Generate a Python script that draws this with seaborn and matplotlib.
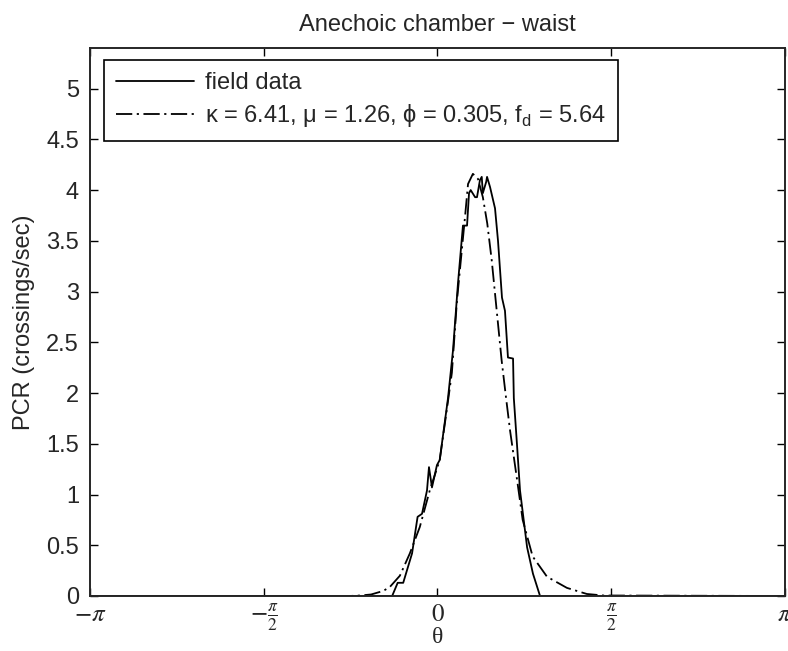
import numpy as np
import pandas as pd
import matplotlib
matplotlib.use("Agg")
import matplotlib.pyplot as plt
import seaborn as sns

# field data
theta_field = [-np.pi, -0.41, -0.36, -0.31, -0.23, -0.18, -0.14, -0.095, -0.077, -0.05,
               -0.005, 0.02, 0.095, 0.14, 0.185, 0.23, 0.267, 0.285, 0.30, 0.34,
               0.357, 0.384, 0.40, 0.41, 0.44, 0.448, 0.475, 0.52, 0.547, 0.583,
               0.61, 0.637, 0.683, 0.69, 0.72, 0.746, 0.81, 0.863, 0.927, np.pi]
pcr_field = [0, 0, 0.13, 0.13, 0.42, 0.78, 0.81, 1.04, 1.27, 1.07,
             1.29, 1.34, 1.95, 2.42, 3.08, 3.65, 3.65, 3.97, 4.0, 3.93,
             3.93, 4.1, 4.13, 3.97, 4.08, 4.13, 4.03, 3.82, 3.5, 2.94,
             2.81, 2.35, 2.34, 1.95, 1.47, 1.04, 0.48, 0.22, 0, 0]

# fitted model
theta_fit = [-np.pi, -0.80, -0.70, -0.60, -0.49, -0.43, -0.34, -0.25, -0.16, -0.07,
             0.02, 0.086, 0.13, 0.176, 0.22, 0.25, 0.276, 0.32, 0.366, 0.41,
             0.45, 0.49, 0.52, 0.55, 0.58, 0.62, 0.656, 0.72, 0.77, 0.86,
             0.99, 1.17, 1.35, 1.50, np.pi]
pcr_fit = [0, 0, 0.005, 0.015, 0.05, 0.09, 0.2, 0.42, 0.68, 1.04,
           1.34, 1.85, 2.2, 2.91, 3.41, 3.75, 4.06, 4.16, 4.11, 3.93,
           3.67, 3.31, 2.98, 2.65, 2.32, 1.95, 1.63, 1.14, 0.75, 0.39,
           0.19, 0.08, 0.02, 0.005, 0]

fit_label = "κ = 6.41, μ = 1.26, ϕ = 0.305, f$_\\mathregular{d}$ = 5.64"
xtick_pos = [-np.pi, -np.pi / 2, 0, np.pi / 2, np.pi]
xtick_lbl = [r"$-\pi$", r"$-\frac{\pi}{2}$", r"$0$", r"$\frac{\pi}{2}$", r"$\pi$"]
ytick_pos = np.arange(0, 5.01, 0.5)

sns.set_style("ticks")
plt.rcParams["font.family"] = ["Liberation Sans", "DejaVu Sans"]
plt.rcParams["font.size"] = 17
plt.rcParams["axes.linewidth"] = 1.4
plt.rcParams["xtick.direction"] = "in"
plt.rcParams["ytick.direction"] = "in"

fig = plt.figure(figsize=(7.88, 6.51), dpi=100)
ax = fig.add_axes([90 / 788, 55 / 651, 695 / 788, 548 / 651])

df_field = pd.DataFrame({"theta": theta_field, "pcr": pcr_field})
df_fit = pd.DataFrame({"theta": theta_fit, "pcr": pcr_fit})

sns.lineplot(data=df_field, x="theta", y="pcr", ax=ax, color="black", lw=1.3,
             label="field data")
sns.lineplot(data=df_fit, x="theta", y="pcr", ax=ax, color="black", lw=1.3,
             label=fit_label)
ax.lines[1].set_linestyle((0, (9, 2.5, 1.2, 2.5)))

ax.set_xlim(-np.pi, np.pi)
ax.set_ylim(0, 5.4)
ax.set_xticks(xtick_pos)
ax.set_xticklabels(xtick_lbl, math_fontfamily="stix", fontsize=18)
ax.set_yticks(ytick_pos)
ax.set_yticklabels([f"{v:g}" for v in ytick_pos])
ax.tick_params(top=True, right=True, length=6, width=1.0, color="black")
ax.tick_params(axis="x", pad=4)
ax.tick_params(axis="y", pad=8)

ax.set_xlabel("θ", family="Liberation Serif", fontsize=17, labelpad=-5)
ax.set_ylabel("PCR (crossings/sec)", labelpad=8)
ax.set_title("Anechoic chamber − waist", fontsize=17, pad=12)

leg = ax.legend(loc="upper left", bbox_to_anchor=(0.02, 0.978), fancybox=False,
                framealpha=1, edgecolor="black", handlelength=3.3,
                handletextpad=0.5, borderpad=0.5, labelspacing=0.35,
                borderaxespad=0)
leg.get_frame().set_linewidth(1.2)

fig.savefig("out.png", dpi=100)
